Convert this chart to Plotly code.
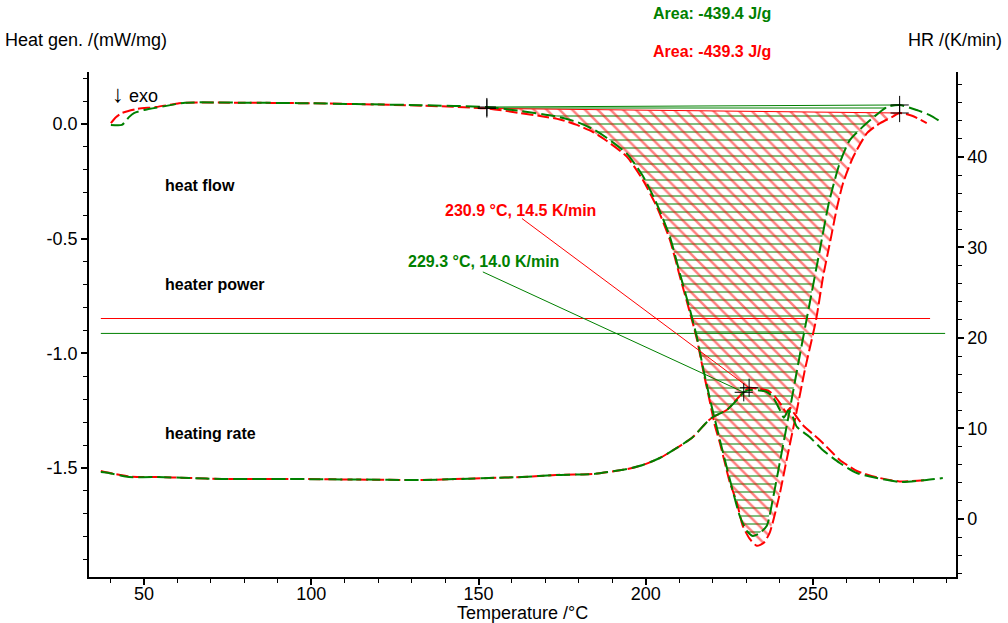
import plotly.graph_objects as go

# ---------------- data ----------------
# Heat flow (left axis, mW/mg) vs temperature (°C)
hf_red_T = [40.1, 41.6, 43.4, 47.6, 53.6, 60.5, 62.3, 80.0, 96.6, 113.0, 133.0, 152.5,
            162.4, 168.4, 174.3, 179.4, 184.2, 188.4, 194.4, 199.1, 203.3, 207.2, 210.2,
            213.2, 215.3, 217.1, 219.2, 220.7, 222.1, 223.6, 225.1, 227.2, 229.0, 231.1,
            233.2, 235.3, 237.1, 240.1, 241.9, 244.6, 247.6, 250.9, 253.0, 255.4, 257.2,
            259.0, 262.0, 266.2, 270.1, 273.6, 275.9, 279.8, 284.0]
hf_red = [0.004, 0.030, 0.048, 0.065, 0.074, 0.091, 0.093, 0.093, 0.091, 0.087, 0.080, 0.068,
          0.048, 0.035, 0.020, -0.004, -0.035, -0.074, -0.143, -0.243, -0.361, -0.504, -0.665,
          -0.822, -0.939, -1.070, -1.213, -1.317, -1.387, -1.474, -1.561, -1.648, -1.752, -1.809,
          -1.839, -1.826, -1.780, -1.610, -1.480, -1.290, -1.070, -0.855, -0.667, -0.493, -0.362,
          -0.257, -0.144, -0.039, 0.004, 0.030, 0.048, 0.035, 0.004]

hf_green_T = [40.1, 43.4, 45.5, 47.0, 50.0, 56.3, 62.3, 80.0, 96.6, 113.0, 133.0, 152.5,
              162.4, 174.3, 179.4, 184.2, 188.4, 194.4, 199.1, 203.3, 207.2, 210.2, 213.2,
              215.3, 217.1, 219.2, 222.1, 225.1, 228.1, 230.2, 232.0, 234.1, 236.2, 238.0,
              240.1, 243.0, 245.9, 248.9, 251.9, 254.8, 258.0, 261.0, 266.1, 272.1, 275.9,
              281.0, 284.9, 288.8]
hf_green = [-0.004, -0.004, 0.030, 0.048, 0.061, 0.078, 0.093, 0.093, 0.091, 0.087, 0.082, 0.074,
            0.057, 0.030, 0.009, -0.022, -0.061, -0.130, -0.226, -0.348, -0.491, -0.652, -0.809,
            -0.930, -1.061, -1.200, -1.374, -1.548, -1.709, -1.774, -1.796, -1.783, -1.752, -1.635,
            -1.474, -1.250, -1.020, -0.790, -0.560, -0.340, -0.170, -0.070, 0.004, 0.074, 0.083,
            0.061, 0.039, 0.004]

# Heating rate (right axis, K/min)
hr_green_T = [37.1, 39.5, 45.5, 53.6, 63.4, 73.3, 93.3, 113.4, 133.1, 153.1, 163.0, 173.1,
              184.2, 194.4, 199.1, 204.2, 209.3, 214.1, 218.3, 220.1, 224.2, 228.1, 229.3,
              231.1, 234.0, 236.2, 238.0, 240.1, 241.3, 242.6, 243.8, 245.2, 249.0, 252.9,
              258.0, 263.1, 269.1, 275.9, 284.0, 288.8]
hr_green = [5.19, 5.08, 4.64, 4.64, 4.53, 4.42, 4.42, 4.36, 4.31, 4.53, 4.64, 4.86,
            4.97, 5.52, 5.97, 6.74, 7.85, 9.06, 10.72, 11.27, 12.04, 13.48, 14.0,
            14.25, 14.2, 14.03, 13.48, 12.04, 11.2, 12.0, 11.4, 10.17, 9.06, 7.62,
            6.19, 5.08, 4.53, 4.09, 4.31, 4.53]

hr_red_T = [37.1, 39.5, 45.5, 53.6, 63.4, 73.3, 93.3, 113.4, 133.1, 153.1, 163.0, 173.1,
            184.2, 194.4, 199.1, 204.2, 209.3, 214.1, 218.3, 220.1, 224.2, 228.1, 230.9,
            233.5, 236.5, 238.5, 240.5, 242.0, 243.2, 244.5, 246.9, 252.0, 255.9, 258.0,
            263.1, 269.1, 275.9, 284.0]
hr_red = [5.30, 5.10, 4.70, 4.64, 4.53, 4.42, 4.42, 4.36, 4.31, 4.53, 4.64, 4.86,
          4.97, 5.52, 5.97, 6.74, 7.85, 9.06, 10.72, 11.27, 12.04, 13.6, 14.5,
          14.4, 14.2, 13.6, 12.6, 11.8, 12.3, 11.6, 10.4, 8.73, 7.29, 6.52,
          5.30, 4.60, 4.15, 4.30]

# Heater power (constant lines, left axis)
hp_red_T = [37.1, 285.0]
hp_red = [-0.848, -0.848]
hp_green_T = [37.1, 289.5]
hp_green = [-0.913, -0.913]

# Integration limits / baselines
base_T = [152.5, 275.9]
base_red = [0.068, 0.048]
base_green = [0.074, 0.083]

# Peak annotations (T, HR) and label anchors (T, HR)
peak_red = (230.9, 14.5)
peak_green = (229.3, 14.0)
label_red = (162.7, 34.1)
label_green = (151.6, 28.4)
lead_red = (163.0, 33.2)
lead_green = (151.3, 27.3)

area_red = -439.3
area_green = -439.4

x_ticks = [50, 100, 150, 200, 250]
y1_ticks = [-1.5, -1.0, -0.5, 0.0]
y1_text = ["-1.5", "-1.0", "-0.5", "0.0"]
y2_ticks = [0, 10, 20, 30, 40]

RED = "#ff0000"
GREEN = "#008000"
FONT = "Liberation Sans, Arial, sans-serif"


def segment(T, v, lo, hi):
    xs, ys = [], []
    for t, y in zip(T, v):
        if lo - 1e-9 <= t <= hi + 1e-9:
            xs.append(t)
            ys.append(y)
    return xs, ys


fig = go.Figure()

# hatched areas
gx, gy = segment(hf_green_T, hf_green, base_T[0], base_T[1])
fig.add_trace(go.Scatter(x=gx, y=gy, mode="none", fill="toself",
                         fillcolor=GREEN,
                         fillpattern=dict(shape="-", fgcolor=GREEN,
                                          bgcolor="rgba(255,255,255,0)",
                                          size=8, solidity=0.25),
                         hoverinfo="skip", showlegend=False))
rx, ry = segment(hf_red_T, hf_red, base_T[0], base_T[1])
fig.add_trace(go.Scatter(x=rx, y=ry, mode="none", fill="toself",
                         fillcolor=RED,
                         fillpattern=dict(shape="\\", fgcolor=RED,
                                          bgcolor="rgba(255,255,255,0)",
                                          size=9, solidity=0.28),
                         hoverinfo="skip", showlegend=False))

# baselines
fig.add_trace(go.Scatter(x=base_T, y=base_green, mode="lines",
                         line=dict(color=GREEN, width=1), showlegend=False))
fig.add_trace(go.Scatter(x=base_T, y=base_red, mode="lines",
                         line=dict(color=RED, width=1), showlegend=False))

# heater power lines
fig.add_trace(go.Scatter(x=hp_red_T, y=hp_red, mode="lines",
                         line=dict(color=RED, width=1), showlegend=False))
fig.add_trace(go.Scatter(x=hp_green_T, y=hp_green, mode="lines",
                         line=dict(color=GREEN, width=1), showlegend=False))

# heat flow curves
fig.add_trace(go.Scatter(x=hf_red_T, y=hf_red, mode="lines",
                         line=dict(color=RED, width=2, dash="12px,4px", shape="spline", smoothing=0.6),
                         showlegend=False))
fig.add_trace(go.Scatter(x=hf_green_T, y=hf_green, mode="lines",
                         line=dict(color=GREEN, width=2, dash="14px,5px", shape="spline", smoothing=0.6),
                         showlegend=False))

# heating rate curves
fig.add_trace(go.Scatter(x=hr_red_T, y=hr_red, mode="lines", yaxis="y2",
                         line=dict(color=RED, width=2, dash="12px,4px", shape="spline", smoothing=0.6),
                         showlegend=False))
fig.add_trace(go.Scatter(x=hr_green_T, y=hr_green, mode="lines", yaxis="y2",
                         line=dict(color=GREEN, width=2, dash="14px,5px", shape="spline", smoothing=0.6),
                         showlegend=False))

# leader lines
fig.add_trace(go.Scatter(x=[lead_red[0], peak_red[0]], y=[lead_red[1], peak_red[1]],
                         mode="lines", yaxis="y2", line=dict(color=RED, width=1),
                         showlegend=False))
fig.add_trace(go.Scatter(x=[lead_green[0], peak_green[0]], y=[lead_green[1], peak_green[1]],
                         mode="lines", yaxis="y2", line=dict(color=GREEN, width=1),
                         showlegend=False))

# cross markers
cross = dict(symbol="cross-thin", size=13, color="black", line=dict(width=1, color="black"))
fig.add_trace(go.Scatter(x=base_T + base_T, y=base_green + base_red, mode="markers",
                         marker=cross, showlegend=False))
fig.add_trace(go.Scatter(x=[peak_red[0], peak_green[0]], y=[peak_red[1], peak_green[1]],
                         mode="markers", yaxis="y2", marker=cross, showlegend=False))

annotations = [
    dict(text="Heat gen. /(mW/mg)", x=-0.003, y=1.063, xref="paper", yref="paper",
         xanchor="center", yanchor="middle", showarrow=False, font=dict(size=18, color="black")),
    dict(text="HR /(K/min)", x=0.999, y=1.063, xref="paper", yref="paper",
         xanchor="center", yanchor="middle", showarrow=False, font=dict(size=18, color="black")),
    dict(text=f"<b>Area: {area_green:.1f} J/g</b>", x=0.7186, y=1.115, xref="paper", yref="paper",
         xanchor="center", yanchor="middle", showarrow=False, font=dict(size=16, color=GREEN)),
    dict(text=f"<b>Area: {area_red:.1f} J/g</b>", x=0.7186, y=1.040, xref="paper", yref="paper",
         xanchor="center", yanchor="middle", showarrow=False, font=dict(size=16, color=RED)),
    dict(text="<span style='font-size:24px'>↓</span> exo", x=0.024, y=0.958, xref="paper", yref="paper",
         xanchor="left", yanchor="middle", showarrow=False, font=dict(size=18, color="black")),
    dict(text="<b>heat flow</b>", x=0.0854, y=0.776, xref="paper", yref="paper",
         xanchor="left", yanchor="middle", showarrow=False, font=dict(size=16, color="black")),
    dict(text="<b>heater power</b>", x=0.0854, y=0.580, xref="paper", yref="paper",
         xanchor="left", yanchor="middle", showarrow=False, font=dict(size=16, color="black")),
    dict(text="<b>heating rate</b>", x=0.0854, y=0.285, xref="paper", yref="paper",
         xanchor="left", yanchor="middle", showarrow=False, font=dict(size=16, color="black")),
    dict(text=f"<b>{peak_red[0]:.1f} °C, {peak_red[1]:.1f} K/min</b>", x=label_red[0], y=label_red[1],
         xref="x", yref="y2", xanchor="center", yanchor="middle", showarrow=False,
         font=dict(size=16, color=RED)),
    dict(text=f"<b>{peak_green[0]:.1f} °C, {peak_green[1]:.1f} K/min</b>", x=label_green[0], y=label_green[1],
         xref="x", yref="y2", xanchor="center", yanchor="middle", showarrow=False,
         font=dict(size=16, color=GREEN)),
    dict(text="Temperature /°C", x=0.5, y=-0.071, xref="paper", yref="paper",
         xanchor="center", yanchor="middle", showarrow=False, font=dict(size=18, color="black")),
]

axis_common = dict(showgrid=False, zeroline=False, showline=True, linecolor="black", linewidth=1.5,
                   ticks="outside", ticklen=6, tickwidth=1.5, tickcolor="black",
                   tickfont=dict(size=18, color="black"), automargin=False)

fig.update_layout(
    width=1008, height=623,
    margin=dict(l=89, r=52, t=72, b=46, autoexpand=False),
    paper_bgcolor="white", plot_bgcolor="white",
    font=dict(family=FONT, color="black"),
    showlegend=False,
    annotations=annotations,
    xaxis=dict(range=[33.56, 292.75], tickvals=x_ticks, ticklabelstandoff=-6, **axis_common,
               minor=dict(dtick=10, tick0=0, ticklen=4, tickcolor="black", ticks="outside", tickwidth=1)),
    yaxis=dict(range=[-1.975, 0.2268], tickvals=y1_ticks, ticktext=y1_text, **axis_common,
               minor=dict(dtick=0.1, tick0=0, ticklen=4, tickcolor="black", ticks="outside", tickwidth=1)),
    yaxis2=dict(range=[-6.41, 49.39], tickvals=y2_ticks, overlaying="y", side="right", **axis_common,
                minor=dict(dtick=2, tick0=0, ticklen=4, tickcolor="black", ticks="outside", tickwidth=1)),
)

fig.write_html("out.html", config={"displayModeBar": False},
               post_script="document.body.style.margin='0px';document.body.style.overflow='hidden';")
